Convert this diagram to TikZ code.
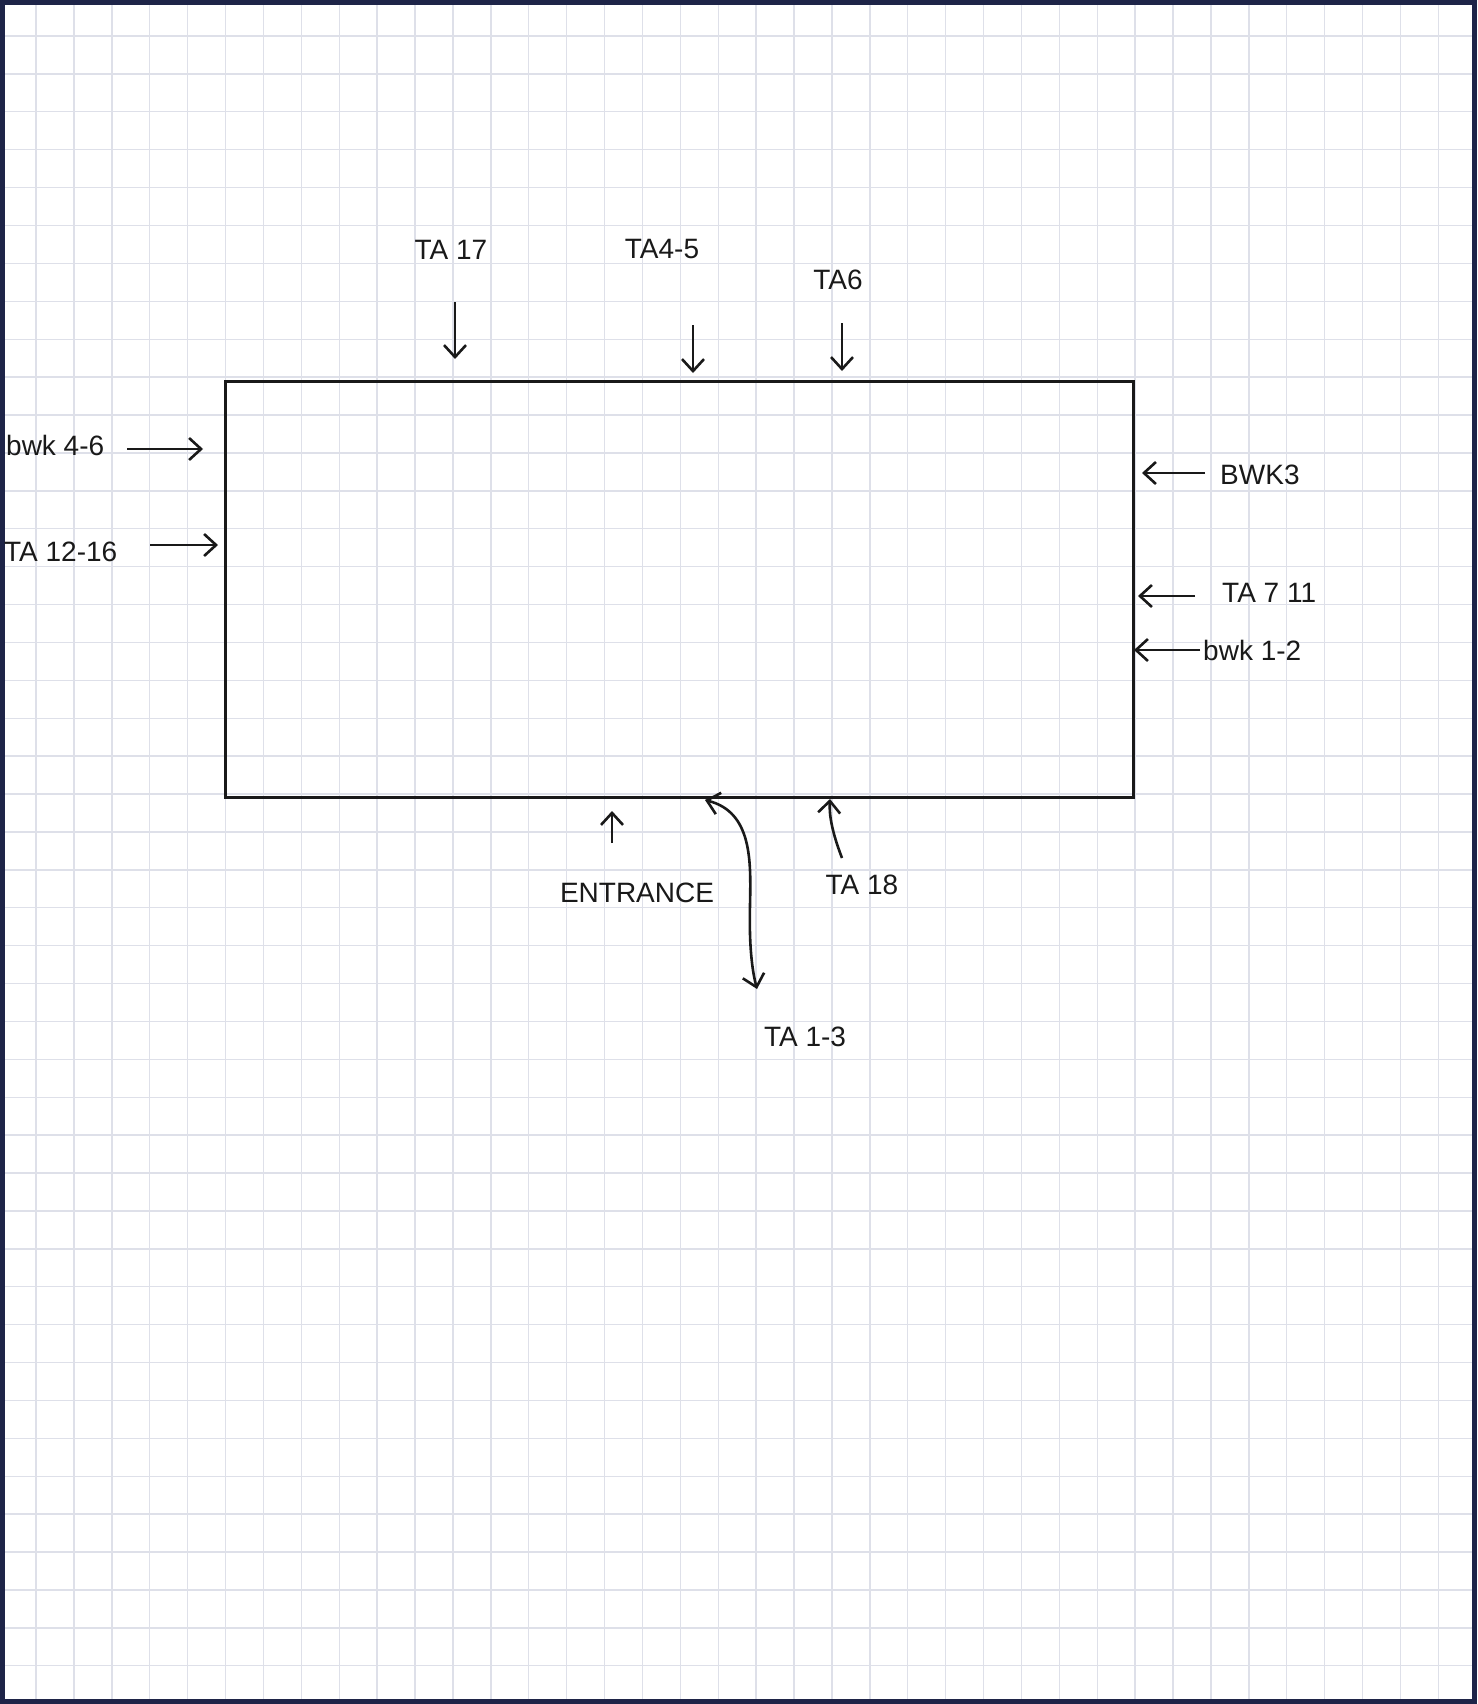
\documentclass[tikz,border=0pt]{standalone}
\usepackage{fontspec}
\setmainfont{Liberation Sans}
\usetikzlibrary{arrows.meta}
\definecolor{gridc}{RGB}{222,224,233}
\definecolor{navyc}{RGB}{30,36,72}
\definecolor{inkc}{RGB}{25,25,25}
\begin{document}
\begin{tikzpicture}[x=1pt,y=-1pt,
  lab/.style={font=\fontsize{28}{30}\selectfont, inner sep=0pt, text=inkc},
  conn/.style={draw=inkc, line width=2.6pt, -{Straight Barb[length=12pt,width=22pt,line width=2.6pt]}},
  room/.style={draw=inkc, line width=3pt, minimum width=908pt, minimum height=416pt, inner sep=0pt}]
\fill[white] (0,0) rectangle (1477,1704);
\useasboundingbox (0,0) rectangle (1477,1704);
% grid
\foreach \i in {0,...,38} { \draw[gridc, line width=1.4pt] ({36+37.9*\i},0) -- ({36+37.9*\i},1704); }
\foreach \j in {0,...,43} { \draw[gridc, line width=1.4pt] (0,{36+37.9*\j}) -- (1477,{36+37.9*\j}); }
% frame
\draw[navyc, line width=5pt] (2.5,2.5) rectangle (1474.5,1701.5);
% room
\node[room] (room) at (679,589) {};
% labels
\node[lab] (ta17) at (451,250) {TA 17};
\node[lab] (ta45) at (662,249) {TA4-5};
\node[lab] (ta6) at (838,280) {TA6};
\node[lab, anchor=west] (bwk46) at (6,445) {bwk 4-6};
\node[lab, anchor=west] (ta1216) at (4,552) {TA 12-16};
\node[lab, anchor=west] (bwk3) at (1220,475) {BWK3};
\node[lab, anchor=west] (ta711) at (1222,593) {TA 7 11};
\node[lab, anchor=west] (bwk12) at (1203,650) {bwk 1-2};
\node[lab] (entr) at (637,893) {ENTRANCE};
\node[lab] (ta18) at (862,885) {TA 18};
\node[lab] (ta13) at (805,1037) {TA 1-3};
% arrow end points
\coordinate (a17s) at (455,302); \coordinate (a17e) at (455,359);
\coordinate (a45s) at (693,325); \coordinate (a45e) at (693,373);
\coordinate (a6s) at (842,323);  \coordinate (a6e) at (842,371);
\coordinate (b46s) at (127,449); \coordinate (b46e) at (203,449);
\coordinate (t1216s) at (150,545); \coordinate (t1216e) at (218,545);
\coordinate (b3s) at (1205,473); \coordinate (b3e) at (1142,473);
\coordinate (t711s) at (1195,596); \coordinate (t711e) at (1138,596);
\coordinate (b12s) at (1200,650); \coordinate (b12e) at (1134,650);
\coordinate (ens) at (612,843); \coordinate (ene) at (612,811);
\coordinate (t18s) at (842,858); \coordinate (t18e) at (830,799);
\coordinate (t13a) at (705,800); \coordinate (t13b) at (757,989);
% arrows
\draw[conn] (a17s) -- (a17e);
\draw[conn] (a45s) -- (a45e);
\draw[conn] (a6s) -- (a6e);
\draw[conn] (b46s) -- (b46e);
\draw[conn] (t1216s) -- (t1216e);
\draw[conn] (b3s) -- (b3e);
\draw[conn] (t711s) -- (t711e);
\draw[conn] (b12s) -- (b12e);
\draw[conn] (ens) -- (ene);
\draw[conn] (t18s) .. controls (832,832) and (829,815) .. (t18e);
\draw[conn, {Straight Barb[length=12pt,width=22pt,line width=2.6pt]}-{Straight Barb[length=12pt,width=22pt,line width=2.6pt]}]
  (t13a) .. controls (752,812) and (751,860) .. (750,905) .. controls (749,945) and (752,970) .. (t13b);
\end{tikzpicture}
\end{document}
